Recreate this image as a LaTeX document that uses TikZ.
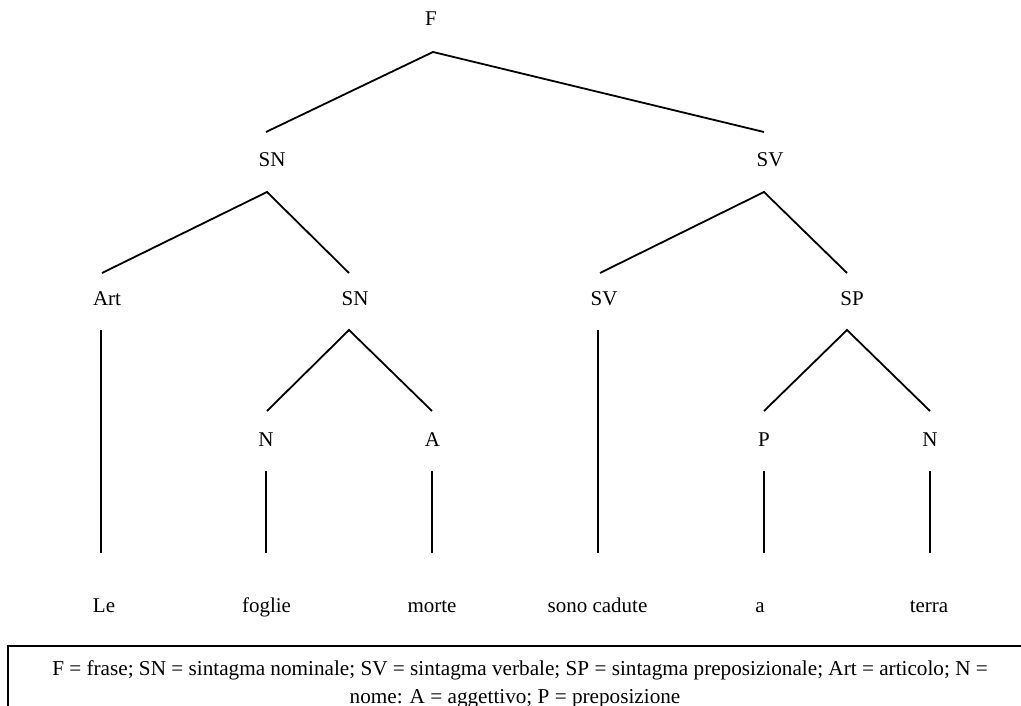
\documentclass[tikz,border=0pt]{standalone}
\usepackage{fontspec}
\setmainfont{Liberation Serif}
\begin{document}
\begin{tikzpicture}[x=1pt,y=-1pt,
  lab/.style={anchor=base,inner sep=0pt,font=\fontsize{21}{28}\selectfont},
  edge/.style={line width=1.8pt,line cap=butt,line join=miter},
  legend/.style={anchor=base,inner sep=0pt,font=\fontsize{21.2}{28}\selectfont}]
\useasboundingbox (0,0) rectangle (1021,706);

% tree labels (positioned by baseline)
\node[lab] (F)   at (431,26)    {F};
\node[lab] (SNa) at (272,167)   {SN};
\node[lab] (SVa) at (770,167)   {SV};
\node[lab] (Art) at (107,305.5) {Art};
\node[lab] (SNb) at (355,305.5) {SN};
\node[lab] (SVb) at (604,305.5) {SV};
\node[lab] (SP)  at (852,305.5) {SP};
\node[lab] (Na)  at (266,446)   {N};
\node[lab] (A)   at (432.5,446) {A};
\node[lab] (P)   at (764,446)   {P};
\node[lab] (Nb)  at (930,446)   {N};
\node[lab] (w1)  at (104,612.5) {Le};
\node[lab] (w2)  at (266.5,612.5) {foglie};
\node[lab] (w3)  at (432,612.5) {morte};
\node[lab] (w4)  at (597.5,612.5) {sono cadute};
\node[lab] (w5)  at (760,612.5) {a};
\node[lab] (w6)  at (929,612.5) {terra};

% attachment points of the branches
\coordinate (F-d)   at (433,52);
\coordinate (SNa-u) at (266,132);  \coordinate (SNa-d) at (267,192);
\coordinate (SVa-u) at (764,132);  \coordinate (SVa-d) at (764,192);
\coordinate (Art-u) at (102,273);  \coordinate (Art-d) at (101,330);
\coordinate (SNb-u) at (349,273);  \coordinate (SNb-d) at (349,330);
\coordinate (SVb-u) at (600,273);  \coordinate (SVb-d) at (598,330);
\coordinate (SP-u)  at (847,273);  \coordinate (SP-d)  at (847,330);
\coordinate (Na-u)  at (267,411);  \coordinate (Na-d)  at (266,471);
\coordinate (A-u)   at (432,411);  \coordinate (A-d)   at (432,471);
\coordinate (P-u)   at (764,411);  \coordinate (P-d)   at (764,471);
\coordinate (Nb-u)  at (930,411);  \coordinate (Nb-d)  at (930,471);
\coordinate (w1-u)  at (101,553);
\coordinate (w2-u)  at (266,553);
\coordinate (w3-u)  at (432,553);
\coordinate (w4-u)  at (598,553);
\coordinate (w5-u)  at (764,553);
\coordinate (w6-u)  at (930,553);

% branches
\draw[edge] (SNa-u) -- (F-d) -- (SVa-u);
\draw[edge] (Art-u) -- (SNa-d) -- (SNb-u);
\draw[edge] (SVb-u) -- (SVa-d) -- (SP-u);
\draw[edge] (Na-u) -- (SNb-d) -- (A-u);
\draw[edge] (P-u) -- (SP-d) -- (Nb-u);
\draw[edge] (Art-d) -- (w1-u);
\draw[edge] (SVb-d) -- (w4-u);
\draw[edge] (Na-d) -- (w2-u);
\draw[edge] (A-d) -- (w3-u);
\draw[edge] (P-d) -- (w5-u);
\draw[edge] (Nb-d) -- (w6-u);

% legend box, running past the lower and right edges
\begin{scope}
  \clip (0,0) rectangle (1021,706);
  \draw[line width=1.8pt] (8,730) -- (8,646) -- (1035,646) -- (1035,730);
  \node[legend] (leg1) at (520,675.5) {F = frase; SN = sintagma nominale; SV = sintagma verbale; SP = sintagma preposizionale; Art = articolo; N =};
  \node[legend] (leg2) at (515,703.5) {nome: A = aggettivo; P = preposizione};
\end{scope}
\end{tikzpicture}
\end{document}
